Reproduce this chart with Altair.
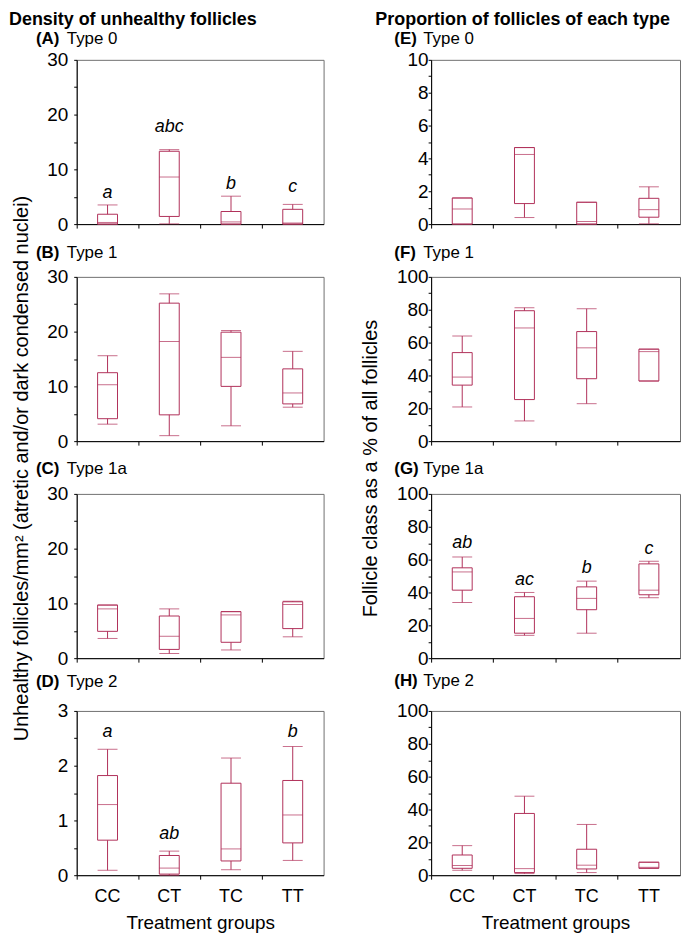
import altair as alt
import pandas as pd

FONT = "Liberation Sans"
COL = "#b0305a"

groups = ["CC", "CT", "TC", "TT"]

# ---- Density of unhealthy follicles (per mm2) ----
A_min = [0.0, 0.05, 0.0, 0.0]
A_q1 = [0.0, 1.4, 0.0, 0.0]
A_med = [0.3, 8.6, 0.4, 0.2]
A_q3 = [1.8, 13.3, 2.3, 2.7]
A_max = [3.5, 13.6, 5.1, 3.6]
A_sig = ["a", "abc", "b", "c"]
A_sig_y = [5.6, 17.7, 7.4, 6.7]

B_min = [3.1, 1.0, 2.8, 6.2]
B_q1 = [4.1, 4.8, 10.0, 6.8]
B_med = [10.3, 18.2, 15.3, 8.8]
B_q3 = [12.5, 25.2, 19.9, 13.2]
B_max = [15.6, 26.9, 20.2, 16.4]

C_min = [3.6, 0.85, 1.5, 3.9]
C_q1 = [4.9, 1.6, 2.9, 5.4]
C_med = [9.0, 4.0, 7.9, 9.8]
C_q3 = [9.7, 7.7, 8.5, 10.3]
C_max = [9.7, 9.0, 8.5, 10.4]

D_min = [0.09, 0.0, 0.10, 0.27]
D_q1 = [0.64, 0.02, 0.26, 0.59]
D_med = [1.29, 0.13, 0.48, 1.10]
D_q3 = [1.82, 0.36, 1.68, 1.73]
D_max = [2.30, 0.44, 2.14, 2.35]
D_sig = ["a", "ab", "", "b"]
D_sig_y = [2.62, 0.75, 0.0, 2.62]

# ---- Proportion of follicles of each type (%) ----
E_min = [0.0, 0.4, 0.0, 0.02]
E_q1 = [0.0, 1.25, 0.0, 0.42]
E_med = [0.92, 4.24, 0.16, 0.88]
E_q3 = [1.59, 4.66, 1.33, 1.57]
E_max = [1.59, 4.66, 1.33, 2.27]

F_min = [20.8, 12.3, 22.8, 36.6]
F_q1 = [34.1, 25.3, 38.0, 36.6]
F_med = [39.0, 68.9, 56.8, 54.5]
F_q3 = [53.9, 79.4, 66.7, 56.0]
F_max = [64.0, 81.2, 80.6, 56.0]

G_min = [33.9, 13.9, 15.2, 36.8]
G_q1 = [41.4, 15.2, 29.5, 38.6]
G_med = [52.5, 24.2, 36.4, 41.4]
G_q3 = [55.0, 37.4, 43.4, 57.4]
G_max = [61.6, 40.0, 46.9, 59.0]
G_sig = ["ab", "ac", "b", "c"]
G_sig_y = [70.3, 47.5, 55.0, 66.5]

H_min = [3.0, 1.0, 1.6, 4.2]
H_q1 = [4.2, 1.6, 3.8, 4.2]
H_med = [5.9, 4.0, 6.1, 4.8]
H_q3 = [12.3, 37.6, 15.8, 7.9]
H_max = [18.0, 48.1, 30.9, 7.9]

left_ticks = [0, 5, 10, 15, 20, 25, 30]
d_ticks = [0, 0.5, 1, 1.5, 2, 2.5, 3]
e_ticks = [0, 1, 2, 3, 4, 5, 6, 7, 8, 9, 10]
pct_ticks = [0, 10, 20, 30, 40, 50, 60, 70, 80, 90, 100]

LEFT_W, RIGHT_W, PANEL_H = 248, 250, 165


def panel(letter, type_name, lo, q1, med, q3, hi, ymax, ticks, major,
          width, right_col, label_dy, bottom=False, sig=None, sig_y=None,
          heading=None, ytitle=None):
    df = pd.DataFrame({"group": groups, "lo": lo, "q1": q1, "med": med,
                       "q3": q3, "hi": hi})
    x_axis = alt.Axis(
        title="Treatment groups" if bottom else None,
        labels=bottom, bandPosition=0, tickSize=4, labelAngle=0,
        labelFontSize=18, labelPadding=8, titleFontSize=19,
        titlePadding=9, titleFontWeight="normal",
    )
    x = alt.X("group:N", sort=groups,
              scale=alt.Scale(domain=groups, paddingInner=0, paddingOuter=0),
              axis=x_axis)
    yargs = dict(
        values=ticks,
        labelExpr=f"datum.value % {major} == 0 ? format(datum.value, '~g') : ''",
        tickSize=3, labelFontSize=19,
        labelPadding=0 if right_col else 6, grid=False,
    )
    if ytitle:
        yargs.update(title=ytitle, titleFontSize=20, titleFontWeight="normal",
                     titleX=-55 if right_col else -49, titleY=192,
                     titleAngle=270, titleAlign="center",
                     titleBaseline="alphabetic")
    else:
        yargs.update(title=None)
    y_axis = alt.Axis(**yargs)
    ys = alt.Scale(domain=[0, ymax], nice=False, zero=True)

    def Y(f):
        return alt.Y(f"{f}:Q", scale=ys, axis=y_axis)

    base = alt.Chart(df)
    whisk = base.mark_rule(color=COL, strokeWidth=1).encode(x=x, y=Y("lo"), y2="hi:Q")
    box = base.mark_bar(fill="white", stroke=COL, strokeWidth=1, size=20).encode(
        x=x, y=Y("q1"), y2="q3:Q")
    medt = base.mark_tick(color=COL, size=20, thickness=1).encode(x=x, y=Y("med"))
    capl = base.mark_tick(color=COL, size=20, thickness=1).encode(x=x, y=Y("lo"))
    caph = base.mark_tick(color=COL, size=20, thickness=1).encode(x=x, y=Y("hi"))
    layers = [whisk, box, medt, capl, caph]

    if sig:
        sdf = pd.DataFrame({"group": groups, "txt": sig, "yv": sig_y})
        sdf = sdf[sdf["txt"] != ""]
        layers.append(
            alt.Chart(sdf).mark_text(fontSize=18, fontStyle="italic", color="black",
                                     baseline="middle", font=FONT)
            .encode(x=x, y=Y("yv"), text="txt:N"))

    ldf = pd.DataFrame({"tag": [f"({letter})"], "name": [type_name]})
    lab_x1, lab_x2 = (-37, -8) if right_col else (-41, -10)
    layers.append(
        alt.Chart(ldf).mark_text(fontSize=17, fontWeight="bold", align="left",
                                 baseline="middle", color="black", font=FONT)
        .encode(x=alt.value(lab_x1), y=alt.value(label_dy), text="tag:N"))
    layers.append(
        alt.Chart(ldf).mark_text(fontSize=17, align="left", baseline="middle",
                                 color="black", font=FONT)
        .encode(x=alt.value(lab_x2), y=alt.value(label_dy), text="name:N"))

    props = dict(width=width, height=PANEL_H)
    if heading:
        props["title"] = alt.TitleParams(
            heading, anchor="start", frame="group", fontSize=18,
            fontWeight="bold", font=FONT, color="black",
            dx=-56 if right_col else -68, offset=1)
    return alt.layer(*layers).properties(**props)


A = panel("A", "Type 0", A_min, A_q1, A_med, A_q3, A_max, 30, left_ticks, 10,
          LEFT_W, False, -21, sig=A_sig, sig_y=A_sig_y,
          heading="Density of unhealthy follicles")
B = panel("B", "Type 1", B_min, B_q1, B_med, B_q3, B_max, 30, left_ticks, 10,
          LEFT_W, False, -24,
          ytitle="Unhealthy follicles/mm² (atretic and/or dark condensed nuclei)")
C = panel("C", "Type 1a", C_min, C_q1, C_med, C_q3, C_max, 30, left_ticks, 10,
          LEFT_W, False, -25)
D = panel("D", "Type 2", D_min, D_q1, D_med, D_q3, D_max, 3, d_ticks, 1,
          LEFT_W, False, -29, bottom=True, sig=D_sig, sig_y=D_sig_y)

E = panel("E", "Type 0", E_min, E_q1, E_med, E_q3, E_max, 10, e_ticks, 2,
          RIGHT_W, True, -21, heading="Proportion of follicles of each type")
F = panel("F", "Type 1", F_min, F_q1, F_med, F_q3, F_max, 100, pct_ticks, 20,
          RIGHT_W, True, -24, ytitle="Follicle class as a % of all follicles")
G = panel("G", "Type 1a", G_min, G_q1, G_med, G_q3, G_max, 100, pct_ticks, 20,
          RIGHT_W, True, -25, sig=G_sig, sig_y=G_sig_y)
H = panel("H", "Type 2", H_min, H_q1, H_med, H_q3, H_max, 100, pct_ticks, 20,
          RIGHT_W, True, -30, bottom=True)

chart = (
    alt.concat(A, E, B, F, C, G, D, H, columns=2,
               spacing={"row": 53, "column": 108}, bounds="flush")
    .properties(padding={"left": 0, "top": 0, "right": 0, "bottom": 0})
    .configure(font=FONT)
    .configure_view(stroke="#707070", strokeWidth=1)
    .configure_axis(labelFont=FONT, titleFont=FONT, labelColor="black",
                    titleColor="black", domainColor="black", tickColor="black",
                    domainWidth=1, tickWidth=1)
)

chart.save("out.html", embed_options={"renderer": "svg", "actions": False})
